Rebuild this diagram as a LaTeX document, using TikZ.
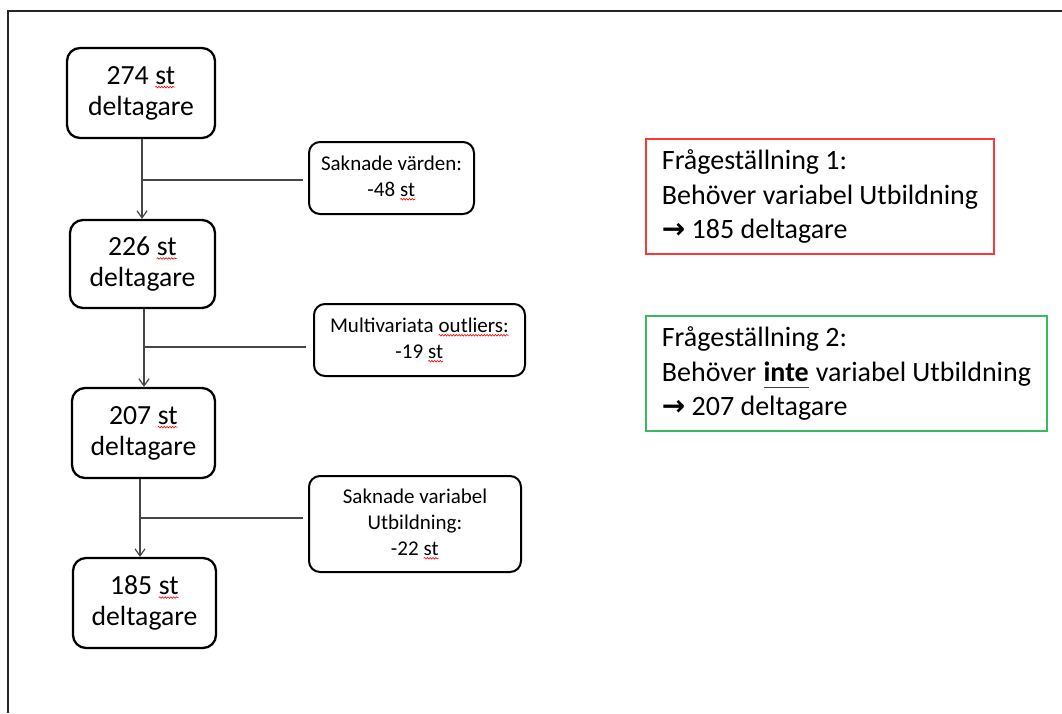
\documentclass[tikz,border=0pt]{standalone}
\usepackage{fontspec}
\setmainfont{Carlito}
\newfontfamily\symfont{DejaVu Sans}
\usetikzlibrary{arrows.meta,decorations.pathmorphing}
\definecolor{boxred}{RGB}{255,55,55}
\definecolor{boxgreen}{RGB}{60,185,95}
\definecolor{conncol}{RGB}{70,70,70}
\tikzset{inword/.style={inner sep=0pt, outer sep=0pt, draw=none, fill=none,
    minimum width=0pt, minimum height=0pt, rounded corners=0pt}}
\newcommand\spl[1]{\tikz[baseline=(w.base)]{\node[inword] (w) {#1};
  \draw[red, line width=0.6pt, rounded corners=0pt, decorate,
    decoration={snake, amplitude=0.8pt, segment length=2.8pt}]
    ([yshift=-3pt]w.base west) -- ([yshift=-3pt]w.base east);}}
\newcommand\uln[1]{\tikz[baseline=(u.base)]{\node[inword] (u) {#1};
  \draw[black!75, line width=1.6pt, rounded corners=0pt]
    ([yshift=-6.5pt]u.base west) -- ([yshift=-6.5pt]u.base east);}}
\begin{document}
\begin{tikzpicture}[x=1pt,y=-1pt,
  mainbox/.style={draw=black, line width=2.3pt, rounded corners=13pt, align=center,
    font=\fontsize{27.7}{31}\selectfont, inner sep=0pt},
  sidebox/.style={draw=black, line width=2pt, rounded corners=11pt, align=center,
    font=\fontsize{21}{26}\selectfont, inner sep=0pt},
  notebox/.style={line width=1.4pt, align=left, font=\fontsize{28}{34.5}\selectfont, inner sep=0pt},
  conn/.style={draw=conncol, line width=1.3pt},
  arr/.style={conn, -{Straight Barb[length=7pt,width=10pt,line width=1.2pt]}},
  pageframe/.style={line width=2.5pt, draw=black!85}]
\useasboundingbox (0,0) rectangle (1062,713);
\draw[pageframe] (8,713) -- (8,11) -- (1062,11);

% main column
\node[mainbox, minimum width=148, minimum height=90] (b1) at (141,93) {274 \spl{st}\\deltagare};
\node[mainbox, minimum width=145, minimum height=88] (b2) at (142.5,264) {226 \spl{st}\\deltagare};
\node[mainbox, minimum width=143, minimum height=90] (b3) at (143.5,433) {207 \spl{st}\\deltagare};
\node[mainbox, minimum width=143, minimum height=90] (b4) at (144.5,603) {185 \spl{st}\\deltagare};

% side boxes
\node[sidebox, minimum width=165, minimum height=72] (sA) at (391.5,178) {Saknade värden:\\-48 \spl{st}};
\node[sidebox, minimum width=211, minimum height=72] (sB) at (419.5,340) {Multivariata \spl{outliers:}\\-19 \spl{st}};
\node[sidebox, minimum width=212, minimum height=96] (sC) at (415,524) {Saknade variabel\\Utbildning:\\-22 \spl{st}};

% connectors
\coordinate (j1) at (142,180);
\coordinate (j2) at (144,347);
\coordinate (j3) at (140,518);
\draw[arr] (b1.south -| j1) -- (b2.north -| j1);
\draw[conn] (j1) -- ([xshift=-5pt]sA.west |- j1);
\draw[arr] (b2.south -| j2) -- (b3.north -| j2);
\draw[conn] (j2) -- ([xshift=-7pt]sB.west |- j2);
\draw[arr] (b3.south -| j3) -- (b4.north -| j3);
\draw[conn] (j3) -- ([xshift=-5pt]sC.west |- j3);

% note boxes
\node[notebox, draw=boxred, minimum width=348, minimum height=115] (q1) at (820,196.5)
  {Frågeställning 1:\\Behöver variabel Utbildning\\{\symfont\bfseries →} 185 deltagare};
\node[notebox, draw=boxgreen, minimum width=401, minimum height=115] (q2) at (846.5,373.5)
  {Frågeställning 2:\\Behöver \uln{\textbf{inte}} variabel Utbildning\\{\symfont\bfseries →} 207 deltagare};
\end{tikzpicture}
\end{document}
